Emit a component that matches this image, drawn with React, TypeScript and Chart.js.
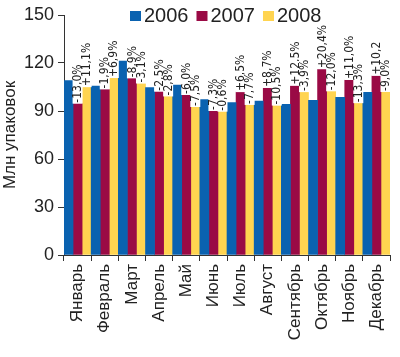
import React, { useEffect, useRef } from "react";
import { Chart, registerables } from "chart.js";

Chart.register(...registerables);

const months = ["Январь", "Февраль", "Март", "Апрель", "Май", "Июнь", "Июль", "Август", "Сентябрь", "Октябрь", "Ноябрь", "Декабрь"];
const years = ["2006", "2007", "2008"];
const v2006 = [109, 105.6, 121.2, 104.6, 106.2, 97.2, 95.2, 96.2, 94.2, 96.7, 98.6, 101.7];
const v2007 = [94.6, 103.5, 110.4, 102.1, 100, 90, 101.8, 104.4, 105.8, 116.1, 109.4, 112];
const v2008 = [104.9, 110.6, 107.2, 99.1, 92.5, 89.6, 93.8, 93.4, 101.8, 102.3, 94.9, 101.9];
const pct2007 = ["-13,0%", "-1,9%", "-8,9%", "-2,5%", "-6,0%", "-7,3%", "+6,5%", "+8,7%", "+12,5%", "+20,4%", "+11,0%", "+10,2"];
const pct2008 = ["+11,1%", "+6,9%", "-3,1%", "-2,8%", "-7,5%", "-0,6%", "-7,7%", "-10,5%", "-3,9%", "-12,0%", "-13,3%", "-9,0%"];
const yTicks = [0, 30, 60, 90, 120, 150];
const colors = ["#0a62b0", "#9a0a45", "#ffd450"];
const yTitle = "Млн упаковок";

const FONT = '"Liberation Sans", Arial, sans-serif';
const LABEL_FONT = '12px "DejaVu Sans Condensed", "DejaVu Sans", sans-serif';

const pctPlugin = {
  id: "pctLabels",
  afterDatasetsDraw(chart: any) {
    const ctx = chart.ctx;
    const sets: [number, string[]][] = [[1, pct2007], [2, pct2008]];
    sets.forEach(([di, labels]) => {
      const meta = chart.getDatasetMeta(di);
      meta.data.forEach((bar: any, i: number) => {
        const text = labels[i];
        ctx.save();
        ctx.translate(bar.x, bar.y - 1);
        ctx.rotate(-Math.PI / 2);
        ctx.font = LABEL_FONT;
        const w = ctx.measureText(text).width;
        ctx.fillStyle = "#fff";
        ctx.fillRect(-1, -5, w + 2, 10);
        ctx.fillStyle = "#222";
        ctx.textAlign = "left";
        ctx.textBaseline = "middle";
        ctx.fillText(text, 0, 0.5);
        ctx.restore();
      });
    });
  },
};

const legendPlugin = {
  id: "customLegend",
  afterDraw(chart: any) {
    const ctx = chart.ctx;
    ctx.save();
    ctx.font = "20px " + FONT;
    ctx.textBaseline = "alphabetic";
    ctx.textAlign = "left";
    let x = 130;
    chart.data.datasets.forEach((ds: any) => {
      ctx.fillStyle = ds.backgroundColor;
      ctx.fillRect(x, 11, 11, 10);
      ctx.fillStyle = "#222";
      ctx.fillText(ds.label, x + 14, 22);
      x += 14 + ctx.measureText(ds.label).width + 8;
    });
    ctx.restore();
  },
};

export default function App() {
  const ref = useRef<HTMLCanvasElement>(null);
  useEffect(() => {
    const chart = new Chart(ref.current as HTMLCanvasElement, {
      type: "bar",
      data: {
        labels: months,
        datasets: [v2006, v2007, v2008].map((d, i) => ({
          label: years[i],
          data: d,
          backgroundColor: colors[i],
          categoryPercentage: 1,
          barPercentage: 1,
          borderWidth: 0,
        })),
      },
      options: {
        animation: false,
        responsive: false,
        maintainAspectRatio: false,
        layout: { padding: { top: 15, right: 4, left: 0, bottom: 0 } },
        plugins: { legend: { display: false }, tooltip: { enabled: false } },
        scales: {
          x: {
            grid: { drawOnChartArea: false, color: "#333", tickLength: 6, offset: true },
            border: { color: "#333", width: 1 },
            ticks: {
              color: "#222",
              font: { family: FONT, size: 17 },
              minRotation: 90,
              maxRotation: 90,
              autoSkip: false,
              padding: 3,
            },
            afterFit: (s: any) => {
              s.height = 102;
            },
          },
          y: {
            min: 0,
            max: 150,
            afterBuildTicks: (s: any) => {
              s.ticks = yTicks.map((v) => ({ value: v }));
            },
            grid: { drawOnChartArea: false, color: "#333", tickLength: 6 },
            border: { color: "#333", width: 1 },
            ticks: { color: "#222", font: { family: FONT, size: 18 }, padding: 4 },
            title: {
              display: true,
              text: yTitle,
              color: "#222",
              font: { family: FONT, size: 17 },
              padding: 0,
            },
            afterFit: (s: any) => {
              s.width = 64;
            },
          },
        },
      },
      plugins: [pctPlugin, legendPlugin],
    });
    return () => chart.destroy();
  }, []);
  return (
    <div style={{ position: "fixed", left: 0, top: 0, width: 400, height: 357, background: "#fff" }}>
      <canvas ref={ref} width={400} height={357} style={{ width: 400, height: 357 }} />
    </div>
  );
}
